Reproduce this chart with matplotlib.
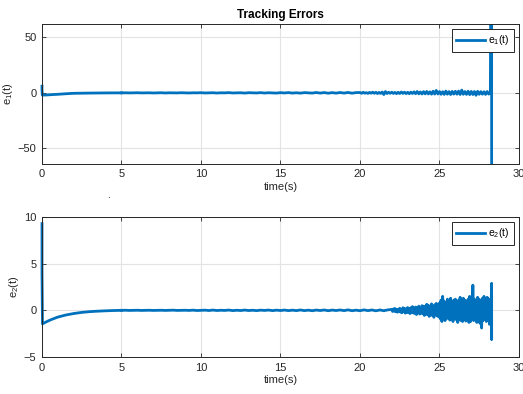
import numpy as np
import matplotlib.pyplot as plt

plt.rcParams['font.family'] = ['Liberation Sans', 'DejaVu Sans']
plt.rcParams['mathtext.default'] = 'regular'

# e1(t): start transient, quiet middle, noisy tail, blow-up at the end
t1_start = [0.0, 0.0, 0.02, 0.3, 0.6, 1.0, 1.5, 2.0, 2.5, 3.0, 4.0]
e1_start = [6.0, 3.0, -2.0, -1.9, -1.6, -1.3, -0.8, -0.4, -0.3, -0.2, -0.05]
e1_mid = [0.0, 0.05, -0.05, 0.0, 0.1, -0.05, 0.0, 0.05, -0.1, 0.0,
          0.1, -0.1, 0.05, 0.0, -0.05, 0.1, 0.0, -0.1, 0.05, 0.0,
          0.15, -0.1, 0.0, 0.1, -0.15, 0.05, 0.0, 0.2, -0.1, 0.0,
          0.1, -0.2, 0.15, 0.0, -0.1, 0.2, -0.15, 0.1, 0.0, -0.2,
          0.2, -0.1, 0.25, -0.2, 0.1, -0.25, 0.2, 0.0, -0.2, 0.3,
          -0.2, 0.25, -0.3, 0.2, -0.25, 0.3, -0.2, 0.35, -0.3, 0.25]
e1_tail = [0.3, -0.4, 0.5, -0.3, 0.2, -0.5, 0.4, -0.3, 0.6, -0.4,
           0.5, -0.6, 0.4, -0.5, 0.7, -1.5, 1.2, -0.6, 0.5, -0.4,
           0.6, -0.5, 0.4, -0.7, 0.5, -0.6, 0.8, -0.5, 0.6, -0.7,
           0.5, -0.8, 0.7, -0.6, 0.9, -0.7, 1.2, -0.9, 0.8, -1.0,
           1.1, -0.9, 1.3, -1.0, 0.9, -1.2, 1.5, -1.1, 2.2, -1.0,
           1.2, -1.3, 1.0, -1.4, 1.6, -1.2, 1.1, -1.5, 1.3, -1.1,
           1.4, -1.2, 1.6, -1.5, 2.5, -1.3, 1.2, -1.4, 1.5, -1.6,
           1.3, -1.5, 1.2, -2.2, 1.4, -1.3, 1.1, -1.2, 1.0, -1.4,
           1.2, -1.1, 0.8]
t1_end = [28.28, 28.28]
e1_end = [300.0, -300.0]

# e2(t)
t2_start = [0.0, 0.0, 0.03, 0.25, 0.5, 0.75, 1.0, 1.5, 2.0, 2.5, 3.0, 3.5, 4.0, 4.5]
e2_start = [9.3, 4.0, -1.45, -1.25, -1.05, -0.88, -0.72, -0.5, -0.34, -0.22, -0.14, -0.09, -0.05, -0.02]
e2_mid = [0.0, 0.01, -0.01, 0.0, 0.01, -0.01, 0.0, 0.01, -0.01, 0.0,
          0.01, -0.01, 0.0, 0.02, -0.01, 0.0, 0.01, -0.01, 0.02, -0.02,
          0.0, 0.02, -0.02, 0.03, -0.02, 0.01, -0.01, 0.03, -0.03, 0.01,
          -0.02, 0.03, -0.02, 0.01, -0.03, 0.02, -0.01, 0.03, -0.03, 0.02,
          -0.02, 0.03, -0.03, 0.02, -0.03, 0.04, -0.03, 0.02, -0.04, 0.03,
          -0.02, 0.04, -0.04, 0.03, -0.02, 0.04, -0.03, 0.05, -0.04, 0.02,
          -0.04, 0.05, -0.03, 0.04, -0.05, 0.04, -0.04, 0.05]
e2_tail = [0.1, -0.12, 0.15, -0.08, 0.2, -0.15, 0.08, -0.2, 0.12, -0.1,
           0.22, -0.2, 0.12, -0.25, 0.28, -0.12, 0.2, -0.3, 0.15, -0.2,
           0.3, -0.25, 0.2, -0.35, 0.28, -0.2, 0.4, -0.28, 0.25, -0.35,
           0.35, -0.45, 0.3, -0.25, 0.45, -0.4, 0.32, -0.3, 0.5, -0.38,
           0.45, -0.55, 0.38, -0.42, 0.65, -0.45, 0.55, -0.65, 0.42, -0.5,
           0.7, -0.55, 0.45, -0.75, 0.6, -0.45, 0.75, -0.6, 0.55, -0.7,
           0.8, -0.9, 1.1, -1.2, 1.5, -0.8, 1.0, -1.1, 0.7, -0.9,
           1.2, -0.8, 1.0, -1.05, 1.3, -0.9, 0.8, -1.2, 1.1, -0.85,
           1.2, -1.0, 0.9, -1.3, 1.1, -0.9, 1.4, -1.1, 1.0, -1.2,
           1.3, -0.9, 1.1, -1.15, 0.9, -1.0, 1.2, -1.3, 1.5, -1.2,
           1.1, -0.9, 2.7, -1.1, 1.2, -1.0, 0.9, -1.3, 1.4, -1.1,
           1.2, -1.4, 1.0, -1.9, 1.3, -1.1, 1.5, -0.9, 1.1, -1.2,
           1.4, -1.0, 1.2, -1.5, 0.8, 0.9]
t2_end = [28.28, 28.28, 28.28]
e2_end = [2.9, -3.1, -1.0]

x_ticks = [0, 5, 10, 15, 20, 25, 30]


def build_series(mid, mid_t0, mid_dt, tail, tail_t0, tail_dt, t_end, e_end):
    t_mid = mid_t0 + mid_dt * np.arange(len(mid))
    t_tail = tail_t0 + tail_dt * np.arange(len(tail))
    t = np.concatenate([t_mid, t_tail, t_end])
    e = np.concatenate([mid, tail, e_end])
    return t, e


t1, e1 = build_series(e1_mid, 5.0, 0.25, e1_tail, 20.0, 0.1, t1_end, e1_end)
t2, e2 = build_series(e2_mid, 5.0, 0.25, e2_tail, 22.0, 0.05, t2_end, e2_end)

blue = '#0072BD'
axcol = '#262626'

fig = plt.figure(figsize=(5.23, 3.94), dpi=100)
ax1 = fig.add_axes([0.0803, 0.584, 0.912, 0.355])
ax2 = fig.add_axes([0.0803, 0.094, 0.912, 0.355])


def style(ax, ylim, yticks, ylabel, leg):
    ax.set_xlim(0, 30)
    ax.set_ylim(*ylim)
    ax.set_xticks(x_ticks)
    ax.set_yticks(yticks)
    ax.grid(True, color='#e3e3e3', linewidth=0.8)
    ax.set_axisbelow(True)
    ax.tick_params(direction='in', length=3, width=0.6, colors=axcol, labelsize=8,
                   top=True, right=True, pad=4)
    for s in ax.spines.values():
        s.set_color(axcol)
        s.set_linewidth(0.7)
    ax.set_xlabel('time(s)', fontsize=8, color=axcol, labelpad=2)
    ax.set_ylabel(ylabel, fontsize=8, color=axcol, labelpad=2)
    lg = ax.legend([leg], loc='upper right', fontsize=7.5, fancybox=False, framealpha=1,
                   edgecolor=axcol, handlelength=2.8, borderpad=0.4, handletextpad=0.3,
                   borderaxespad=0.5)
    lg.get_frame().set_linewidth(0.7)


# start transients drawn unclipped so the jump at t=0 shows on the spine
ax1.plot(t1_start + [t1[0]], e1_start + [e1[0]], color=blue, linewidth=2, clip_on=False)
ax1.plot(t1, e1, color=blue, linewidth=2)
style(ax1, (-64, 62), [-50, 0, 50], 'e$_1$(t)', 'e$_1$(t)')
ax1.set_title('Tracking Errors', fontsize=8.5, fontweight='bold', pad=4)
ax1.get_lines()[1].set_label('_')

ax2.plot(t2_start + [t2[0]], e2_start + [e2[0]], color=blue, linewidth=2, clip_on=False)
ax2.plot(t2, e2, color=blue, linewidth=2)
style(ax2, (-5, 10), [-5, 0, 5, 10], 'e$_2$(t)', 'e$_2$(t)')

fig.text(0.205, 0.497, '.', fontsize=7, color='black')

fig.savefig('out.png', dpi=100)
